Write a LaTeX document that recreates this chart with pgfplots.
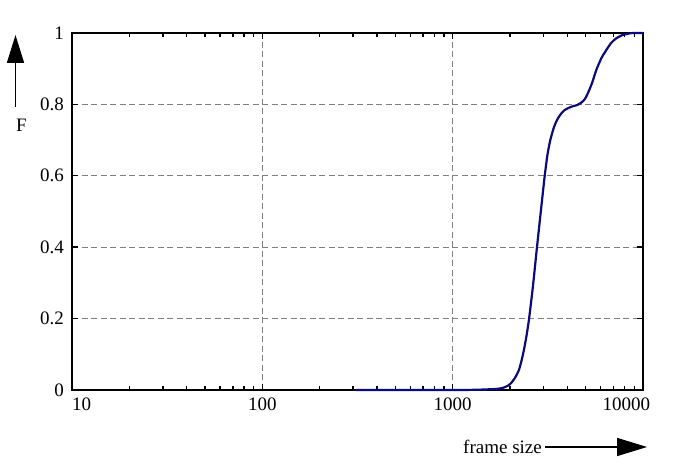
\documentclass[border=0pt]{standalone}
\usepackage{pgfplots}
\pgfplotsset{compat=1.18}
\usepackage{fontspec}
\setmainfont{Liberation Serif}
\usetikzlibrary{arrows.meta}
\definecolor{curve}{RGB}{10,10,125}
\begin{document}
\begin{tikzpicture}[font=\fontsize{19bp}{22bp}\selectfont]
\begin{axis}[
  at={(0,0)}, anchor=south west,
  scale only axis, width=571bp, height=357bp,
  xmode=log, log basis x=10,
  xmin=10, xmax=10000, ymin=0, ymax=1,
  xtick={10,100,1000,10000},
  xticklabels={\makebox[0pt][l]{10},100,1000,\makebox[0pt][r]{10000\hspace*{-7bp}}},
  minor xtick={20,30,40,50,60,70,80,90,200,300,400,500,600,700,800,900,2000,3000,4000,5000,6000,7000,8000,9000},
  ytick={0,0.2,0.4,0.6,0.8,1},
  yticklabels={0,0.2,0.4,0.6,0.8,1},
  minor ytick={},
  tick align=inside,
  major tick length=6bp, minor tick length=4bp,
  every tick/.style={black, line width=1.4bp},
  axis line style={line width=1.8bp, black},
  grid=major,
  minor grid style={draw=none},
  major grid style={gray, dash pattern=on 6bp off 3.5bp, line width=0.9bp},
  xticklabel style={inner sep=0pt, anchor=north, yshift=-8bp},
  yticklabel style={inner sep=0pt, anchor=east, xshift=-8bp},
  /pgf/number format/assume math mode=true,
  clip=false,
]
\addplot[curve, line width=2.2bp, smooth, tension=0.4] coordinates {
(310,0) (500,0) (1000,0) (1300,0.0005) (1560,0.002) (1700,0.003)
(1837,0.006) (1950,0.012) (2032,0.02) (2130,0.035) (2229,0.056)
(2300,0.082) (2367,0.112) (2440,0.15) (2518,0.198) (2640,0.29)
(2773,0.40) (2905,0.50) (3041,0.597) (3150,0.66)
(3258,0.70) (3400,0.735) (3532,0.756) (3700,0.773) (3872,0.784)
(4100,0.791) (4285,0.795) (4500,0.798) (4740,0.805) (4950,0.815)
(5130,0.831) (5400,0.86) (5680,0.896) (6050,0.93) (6410,0.952)
(6800,0.972) (7230,0.985) (7700,0.993) (8160,0.997) (8800,1.0)
(10000,1.0)
};
\end{axis}
% axis descriptions
\draw[line width=1.6bp, -{Triangle[length=28bp,width=17bp]}] (-56.5bp,283bp) -- (-56.5bp,355bp);
\node[inner sep=0pt] at (-50.5bp,265bp) {F};
\draw[line width=1.6bp, -{Triangle[length=30bp,width=18bp]}] (473bp,-57bp) -- (575bp,-57bp);
\node[inner sep=0pt, anchor=base east] at (470bp,-63bp) {frame size};
\pgfresetboundingbox
\useasboundingbox (-72bp,-76bp) rectangle (623bp,390bp);
\end{tikzpicture}
\end{document}
